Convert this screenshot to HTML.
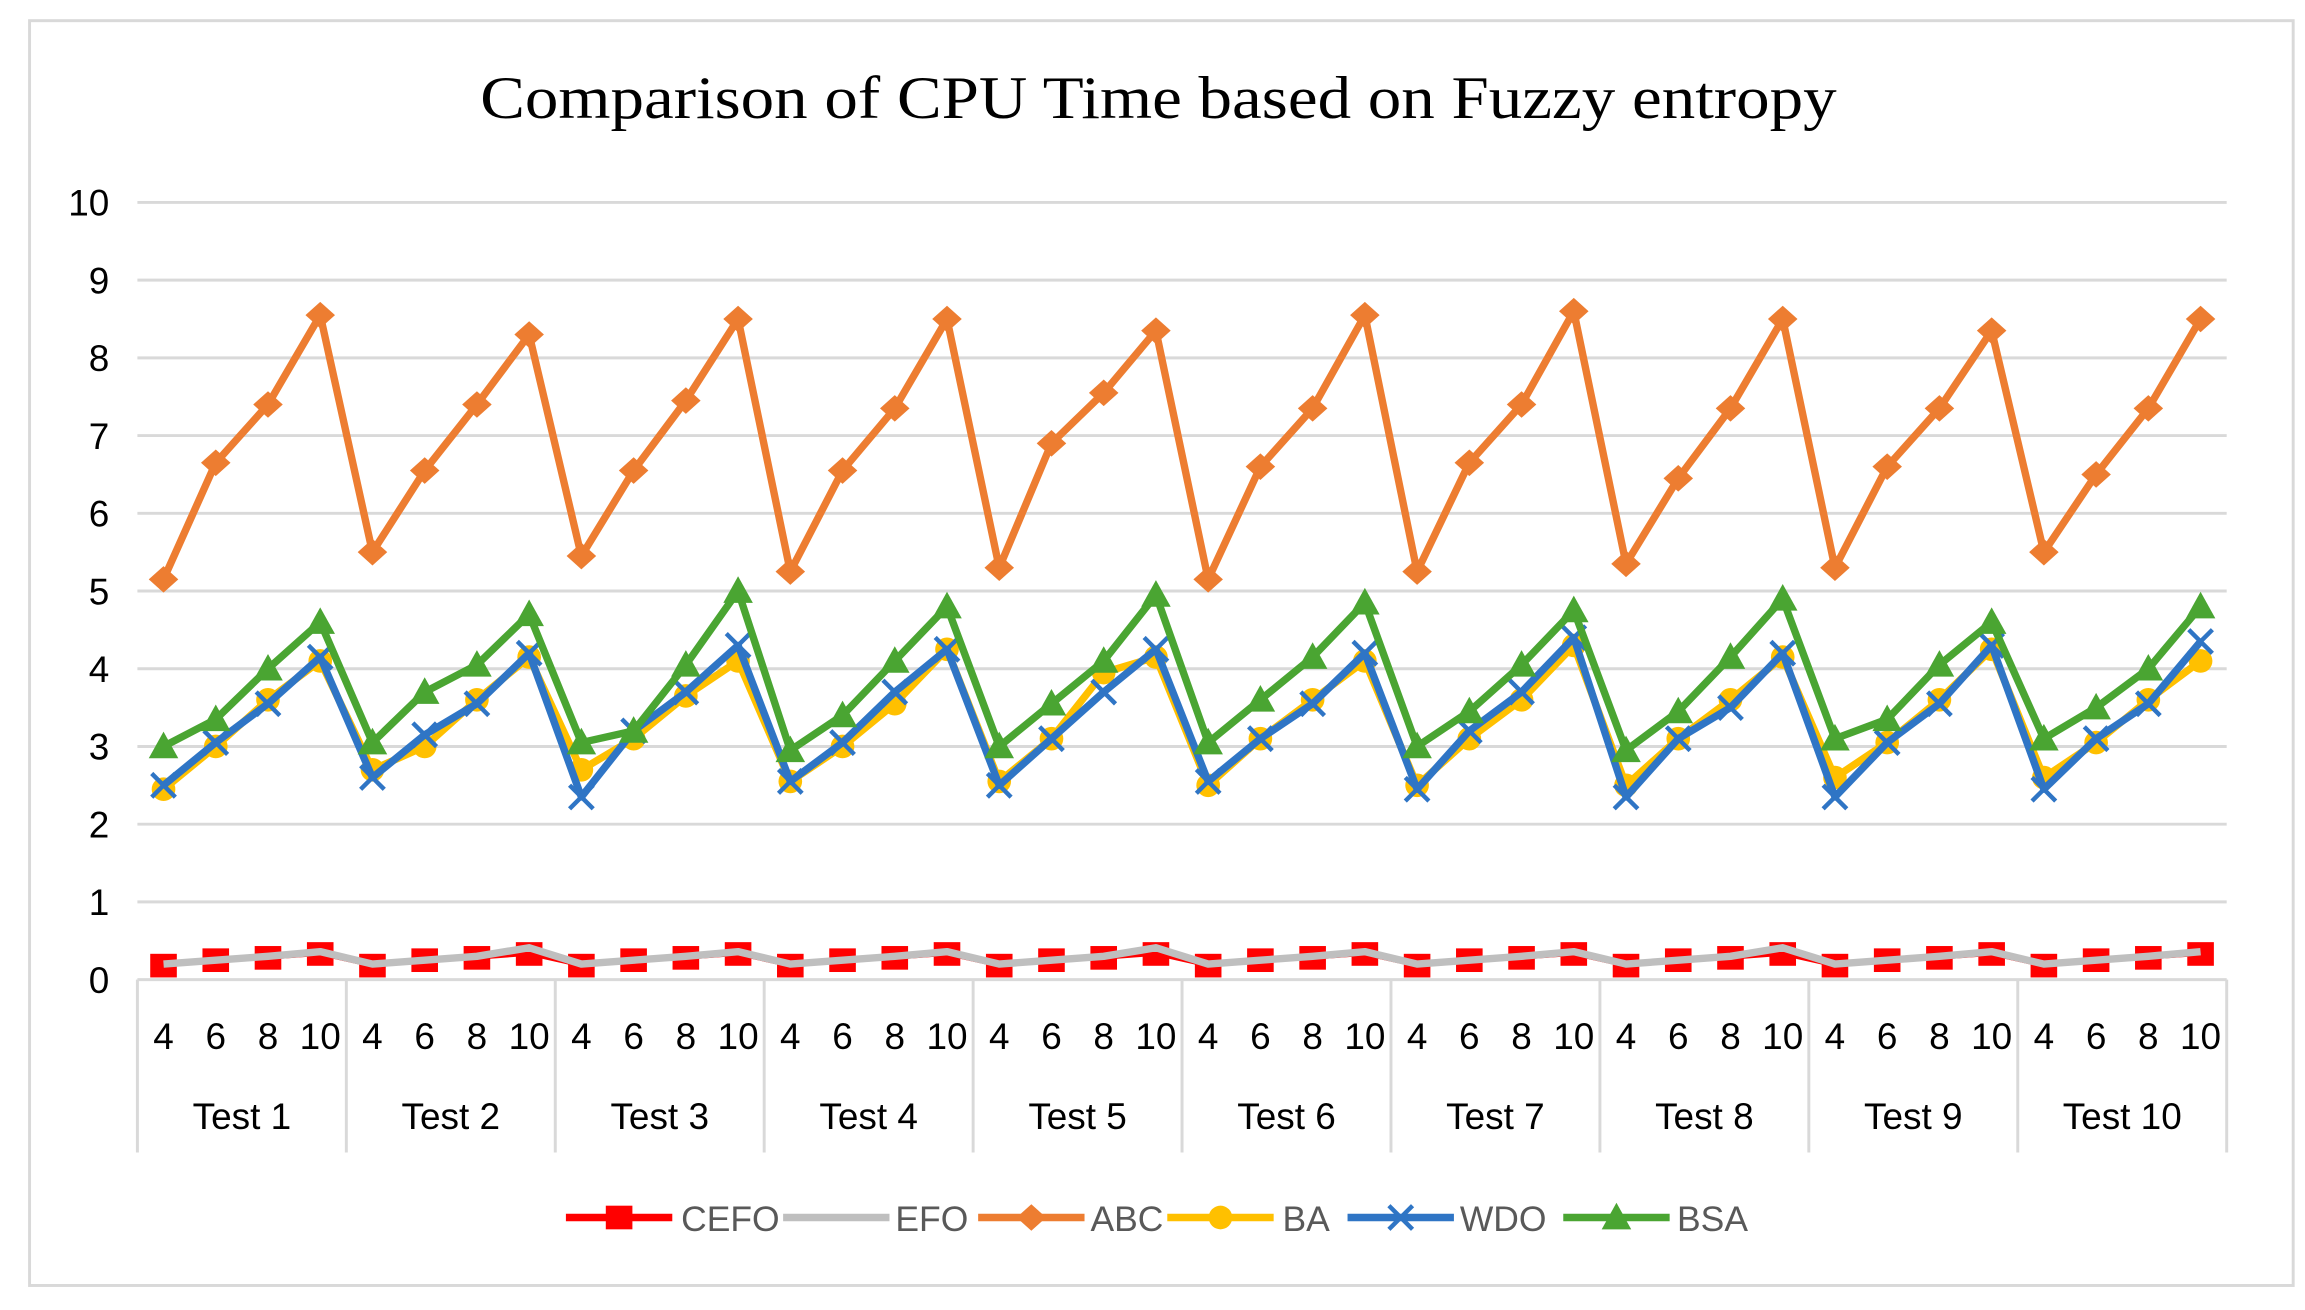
<!DOCTYPE html>
<html><head><meta charset="utf-8"><style>
html,body{margin:0;padding:0;background:#fff;}
svg{display:block;}
</style></head><body>
<svg id="c" xmlns="http://www.w3.org/2000/svg" width="2305" height="1310" viewBox="0 0 1560 886.6" preserveAspectRatio="none">
<rect x="0" y="0" width="1560" height="886.6" fill="#fff"/>
<rect x="20" y="14" width="1532" height="856" fill="#fff" stroke="#d9d9d9" stroke-width="2"/>
<text x="784" y="80" text-anchor="middle" font-family="Liberation Serif, serif" font-size="41" textLength="918" lengthAdjust="spacingAndGlyphs" fill="#000">Comparison of CPU Time based on Fuzzy entropy</text>
<g id="grid"></g>
<g id="series"></g>
<g id="legend" font-family="Liberation Sans, sans-serif" font-size="24" fill="#595959"></g>
</svg>
<script>
const NS="http://www.w3.org/2000/svg";
const x0=93,x1=1507,y0=663,step=52.6;
const cw=(x1-x0)/40;
const X=i=>x0+cw*(i+0.5), Y=v=>y0-v*step;
function el(p,t,a,txt){const e=document.createElementNS(NS,t);for(const k in a)e.setAttribute(k,a[k]);if(txt!=null)e.textContent=txt;p.appendChild(e);return e;}
const g=document.getElementById('grid');
for(let v=0;v<=10;v++){
  if(v>0) el(g,'line',{x1:x0,x2:x1,y1:Y(v),y2:Y(v),stroke:'#d9d9d9','stroke-width':2});
  el(g,'text',{x:74,y:Y(v)+9,'text-anchor':'end','font-family':'Liberation Sans, sans-serif','font-size':25,fill:'#000'},String(v));
}
el(g,'line',{x1:x0,x2:x1,y1:y0,y2:y0,stroke:'#d9d9d9','stroke-width':2});
for(let t=0;t<=10;t++){const xx=x0+cw*4*t;el(g,'line',{x1:xx,x2:xx,y1:y0,y2:780,stroke:'#d9d9d9','stroke-width':2});}
const labs=['4','6','8','10'];
for(let i=0;i<40;i++) el(g,'text',{x:X(i),y:710,'text-anchor':'middle','font-family':'Liberation Sans, sans-serif','font-size':25,fill:'#000'},labs[i%4]);
for(let t=0;t<10;t++) el(g,'text',{x:x0+cw*(4*t+2),y:764,'text-anchor':'middle','font-family':'Liberation Sans, sans-serif','font-size':25,fill:'#000'},'Test '+(t+1));
const D={
ABC:[5.15,6.65,7.4,8.55,5.5,6.55,7.4,8.3,5.45,6.55,7.45,8.5,5.25,6.55,7.35,8.5,5.3,6.9,7.55,8.35,5.15,6.6,7.35,8.55,5.25,6.65,7.4,8.6,5.35,6.45,7.35,8.5,5.3,6.6,7.35,8.35,5.5,6.5,7.35,8.5],
BSA:[3.0,3.35,4.0,4.6,3.05,3.7,4.05,4.7,3.05,3.2,4.05,5.0,2.95,3.4,4.1,4.8,3.0,3.55,4.1,4.95,3.05,3.6,4.15,4.85,3.0,3.45,4.05,4.75,2.95,3.45,4.15,4.9,3.1,3.35,4.05,4.6,3.1,3.5,4.0,4.8],
WDO:[2.5,3.05,3.55,4.15,2.6,3.15,3.55,4.2,2.35,3.2,3.7,4.3,2.55,3.05,3.7,4.25,2.5,3.1,3.7,4.25,2.55,3.1,3.55,4.2,2.45,3.2,3.7,4.4,2.35,3.1,3.5,4.2,2.35,3.05,3.55,4.3,2.45,3.1,3.55,4.35],
BA:[2.45,3.0,3.6,4.1,2.7,3.0,3.6,4.15,2.7,3.1,3.65,4.1,2.55,3.0,3.55,4.25,2.55,3.1,3.95,4.15,2.5,3.1,3.6,4.1,2.5,3.1,3.6,4.3,2.5,3.1,3.6,4.15,2.6,3.05,3.6,4.25,2.6,3.05,3.6,4.1],
CEFO:[],EFO:[]};
const cp=[0.18,0.25,0.28,0.33],ep=[0.2,0.25,0.3,0.36];
for(let t=0;t<10;t++)for(let k=0;k<4;k++){D.CEFO.push(cp[k]);D.EFO.push(ep[k]+(t%3==1&&k==3?0.05:0));}
const S=document.getElementById('series');
function marker(p,type,x,y,c){
  if(type==='sq') el(p,'rect',{x:x-9,y:y-8,width:18,height:16,fill:c});
  else if(type==='dia') el(p,'polygon',{points:`${x},${y-9} ${x+10},${y} ${x},${y+9} ${x-10},${y}`,fill:c});
  else if(type==='cir') el(p,'circle',{cx:x,cy:y,r:8,fill:c});
  else if(type==='x'){el(p,'path',{d:`M${x-8} ${y-8}L${x+8} ${y+8}M${x-8} ${y+8}L${x+8} ${y-8}`,stroke:c,'stroke-width':3});}
  else if(type==='tri') el(p,'polygon',{points:`${x},${y-10} ${x+10},${y+8} ${x-10},${y+8}`,fill:c});
}
const cfg=[['CEFO','#ff0000','sq',2.5],['EFO','#bfbfbf',null,5],['ABC','#ed7d31','dia',5],['BA','#ffc000','cir',5],['WDO','#2f75c5','x',5],['BSA','#4aa532','tri',5]];
for(const [n,c,m,w] of cfg){
  const pts=D[n].map((v,i)=>X(i)+','+Y(v)).join(' ');
  if(n==='CEFO'){D[n].forEach((v,i)=>marker(S,m,X(i),Y(v),c));el(S,'polyline',{points:pts,fill:'none',stroke:c,'stroke-width':w});}
  else{el(S,'polyline',{points:pts,fill:'none',stroke:c,'stroke-width':w,'stroke-linejoin':'round'});
  if(m)D[n].forEach((v,i)=>marker(S,m,X(i),Y(v),c));}
}
const L=document.getElementById('legend');
const lx=[[383,461],[530,606],[662,738],[790,868],[912,988],[1058,1135]];
cfg.forEach(([n,c,m],k)=>{const [a,tx]=lx[k];const y=824;
  el(L,'line',{x1:a,x2:a+72,y1:y,y2:y,stroke:c,'stroke-width':5});
  if(m)marker(L,m,a+36,y,c);
  el(L,'text',{x:tx,y:y+9},n);});
</script>
</body></html>
